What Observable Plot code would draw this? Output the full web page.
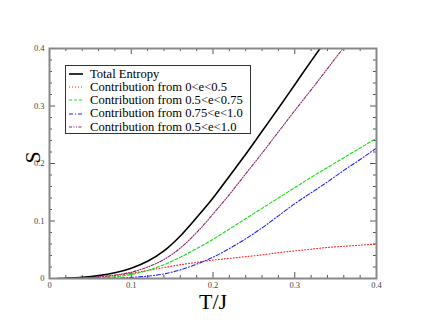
<!DOCTYPE html>
<html>
<head>
<meta charset="utf-8">
<script src="https://cdn.jsdelivr.net/npm/d3@7"></script>
<script src="https://cdn.jsdelivr.net/npm/@observablehq/plot@0.6"></script>
<style>
  html, body { margin: 0; padding: 0; background: #fff; }
  #wrap { position: relative; width: 423px; height: 327px; }
  #legend {
    position: absolute; left: 65px; top: 65px; width: 186px; height: 69px;
    border: 1px solid #333; background: #fff; box-sizing: border-box;
    font-family: "Liberation Serif", "Times New Roman", Times, "DejaVu Serif", serif;
    font-size: 12.6px; color: #000; padding-top: 1.5px;
  }
  .row { display: flex; align-items: center; height: 13.2px; line-height: 12.6px; white-space: nowrap; }
  .row svg { margin-left: 3px; margin-right: 7px; flex: none; }
</style>
</head>
<body>
<div id="wrap"><div id="legend"></div></div>
<script>
// Temperature grid (T/J)
const T = [0.01, 0.02, 0.04, 0.06, 0.08, 0.10, 0.12, 0.14, 0.16, 0.18, 0.20,
           0.22, 0.24, 0.26, 0.28, 0.30, 0.32, 0.34, 0.36, 0.38, 0.40];
// Series (S)
const totalEntropy = [0, 0.0005, 0.002, 0.005, 0.010, 0.018, 0.030, 0.048, 0.074, 0.106, 0.140,
                      0.178, 0.216, 0.256, 0.296, 0.337, 0.378, 0.418, 0.458, 0.498, 0.538];
const contrib0to05 = [0, 0, 0.0005, 0.002, 0.005, 0.009, 0.014, 0.019, 0.024, 0.028, 0.032,
                      0.035, 0.038, 0.041, 0.045, 0.048, 0.051, 0.054, 0.056, 0.058, 0.060];
const contrib05to075 = [0, 0, 0, 0.001, 0.003, 0.007, 0.014, 0.024, 0.037, 0.052, 0.068,
                        0.086, 0.104, 0.122, 0.140, 0.158, 0.176, 0.193, 0.210, 0.227, 0.244];
const contrib075to1 = [0, 0, 0, 0, 0.0005, 0.002, 0.004, 0.008, 0.015, 0.025, 0.037,
                       0.052, 0.069, 0.088, 0.109, 0.130, 0.149, 0.168, 0.188, 0.207, 0.227];
const contrib05to1 = [0, 0, 0.001, 0.003, 0.006, 0.011, 0.020, 0.033, 0.053, 0.080, 0.112,
                      0.146, 0.182, 0.218, 0.255, 0.292, 0.328, 0.365, 0.402, 0.438, 0.475];

const seriesNames = ["Total Entropy", "Contribution from 0<e<0.5", "Contribution from 0.5<e<0.75",
                     "Contribution from 0.75<e<1.0", "Contribution from 0.5<e<1.0"];
const seriesValues = [totalEntropy, contrib0to05, contrib05to075, contrib075to1, contrib05to1];
const seriesColors = ["#000000", "#ff2020", "#10e010", "#2020ff", "#8a2a6e"];
const seriesDash = [null, "1,2", "3,2", "4,2,1,2", "3,1.5,1,1.5,1,1.5"];
const seriesWidth = [1.6, 1.1, 1.1, 1.1, 1.1];

const xMajor = [0, 0.1, 0.2, 0.3, 0.4];
const xMinor = d3.range(0, 0.4001, 0.02).filter(v => Math.abs(v * 10 - Math.round(v * 10)) > 1e-6);
const yMajor = [0, 0.1, 0.2, 0.3, 0.4];
const yMinor = d3.range(0, 0.4001, 0.02).filter(v => Math.abs(v * 10 - Math.round(v * 10)) > 1e-6);
const xTickLabels = ["0", "0.1", "0.2", "0.3", "0.4"];
const yTickLabels = ["0", "0.1", "0.2", "0.3", "0.4"];

const W = 423, H = 327;
const mL = 49, mR = 47, mT = 48, mB = 49;
const innerH = H - mT - mB, innerW = W - mL - mR;
const MAJ = 6, MIN = 3;
const font = "'Liberation Serif', 'Times New Roman', Times, 'DejaVu Serif', serif";

const lineMarks = seriesValues.map((vals, i) =>
  Plot.line(T.map((t, j) => ({T: t, S: vals[j]})), {
    x: "T", y: "S", stroke: seriesColors[i], strokeWidth: seriesWidth[i],
    strokeDasharray: seriesDash[i], curve: "monotone-x", clip: true
  })
);

const tickColor = "#555";
const chart = Plot.plot({
  width: W, height: H,
  marginLeft: mL, marginRight: mR, marginTop: mT, marginBottom: mB,
  style: {fontFamily: font, background: "#fff"},
  x: {domain: [0, 0.4]},
  y: {domain: [0, 0.4]},
  marks: [
    // inward ticks on all four sides
    Plot.tickX(xMajor, {x: d => d, insetTop: innerH - MAJ, stroke: tickColor}),
    Plot.tickX(xMajor, {x: d => d, insetBottom: innerH - MAJ, stroke: tickColor}),
    Plot.tickX(xMinor, {x: d => d, insetTop: innerH - MIN, stroke: tickColor}),
    Plot.tickX(xMinor, {x: d => d, insetBottom: innerH - MIN, stroke: tickColor}),
    Plot.tickY(yMajor, {y: d => d, insetRight: innerW - MAJ, stroke: tickColor}),
    Plot.tickY(yMajor, {y: d => d, insetLeft: innerW - MAJ, stroke: tickColor}),
    Plot.tickY(yMinor, {y: d => d, insetRight: innerW - MIN, stroke: tickColor}),
    Plot.tickY(yMinor, {y: d => d, insetLeft: innerW - MIN, stroke: tickColor}),
    Plot.axisX({ticks: xMajor, tickFormat: (d, i) => xTickLabels[i], tickSize: 0, tickPadding: 3,
                fontSize: 8.5, fill: "#444", label: null}),
    Plot.axisY({ticks: yMajor, tickFormat: (d, i) => yTickLabels[i], tickSize: 0, tickPadding: 5,
                fontSize: 8.5, fill: "#444", label: null}),
    ...lineMarks,
    Plot.frame({stroke: "#888", strokeWidth: 2}),
    Plot.text(["T/J"], {frameAnchor: "bottom", dy: 30, fontSize: 22, fill: "#000", fontFamily: font}),
    Plot.text(["S"], {frameAnchor: "left", dx: -17, rotate: -90, fontSize: 22, fill: "#000", fontFamily: font})
  ]
});
document.getElementById("wrap").prepend(chart);

// Legend
const legend = document.getElementById("legend");
seriesNames.forEach((name, i) => {
  const row = document.createElement("div");
  row.className = "row";
  const dash = seriesDash[i] ? ` stroke-dasharray="${seriesDash[i]}"` : "";
  row.innerHTML = `<svg width="14" height="4"><line x1="0" y1="2" x2="14" y2="2" stroke="${seriesColors[i]}" stroke-width="${seriesWidth[i]}"${dash}/></svg><span>${name.replace(/</g, "&lt;")}</span>`;
  legend.appendChild(row);
});
</script>
</body>
</html>
